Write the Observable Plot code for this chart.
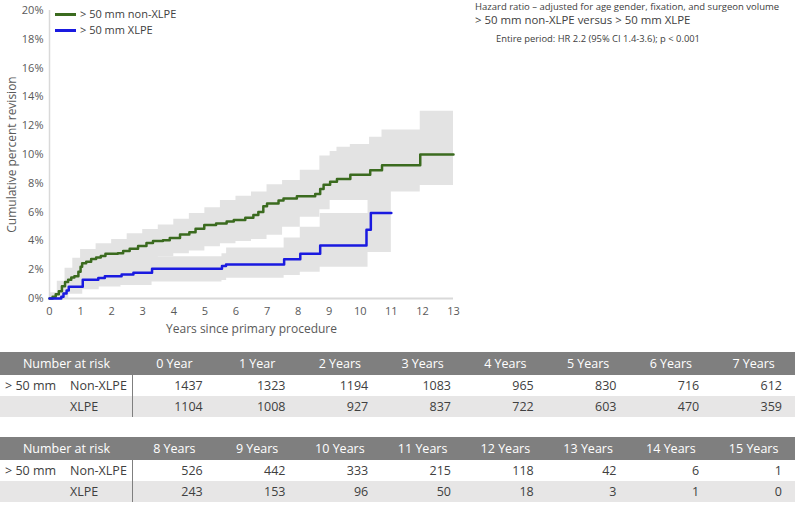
<!DOCTYPE html>
<html><head><meta charset="utf-8">
<script src="https://cdn.jsdelivr.net/npm/d3@7"></script>
<script src="https://cdn.jsdelivr.net/npm/@observablehq/plot@0.6"></script>
<style>
body{margin:0;background:#fff;font-family:"Open Sans",sans-serif;}
#wrap{position:relative;width:795px;height:505px;overflow:hidden;background:#fff;}
#wrap svg{position:absolute;left:0;top:0;}
.abs{position:absolute;white-space:nowrap;}
.hdr{position:absolute;left:0;width:795px;background:#7f7f7f;color:#fff;}
</style></head><body><div id="wrap"></div>
<script>
// ---- Kaplan-Meier style cumulative revision (%) ----
const nonXlpeT = [0,0.1,0.2,0.3,0.4,0.5,0.6,0.7,0.8,0.93,1.0,1.05,1.18,1.34,1.5,1.65,1.8,2.2,2.37,2.58,2.85,3.12,3.33,3.65,3.87,4.2,4.5,4.7,4.98,5.36,5.7,5.93,6.3,6.56,6.72,6.88,7.0,7.37,7.53,7.96,8.55,8.71,8.82,9.03,9.25,9.68,10.32,10.7,11.93,13];
const nonXlpeV = [0,0.12,0.3,0.5,0.85,1.15,1.3,1.45,1.55,1.85,2.2,2.45,2.55,2.75,2.85,2.95,3.1,3.15,3.3,3.45,3.65,3.85,4.0,4.05,4.2,4.45,4.6,4.85,5.1,5.2,5.35,5.45,5.6,5.8,6.0,6.4,6.6,6.8,6.95,7.1,7.25,7.6,7.9,8.1,8.3,8.6,8.9,9.25,10.0,10.0];
const xlpeT = [0,0.38,0.45,0.55,0.62,1.07,1.57,1.78,2.32,2.7,3.3,5.55,5.68,7.55,8.07,8.71,10.2,10.34,11.0];
const xlpeV = [0,0.12,0.35,0.55,0.82,1.3,1.43,1.55,1.66,1.78,2.06,2.25,2.36,2.73,3.1,3.68,4.77,5.93,5.93];
// 95% confidence bands
const nonXlpeBandT = [0,0.25,0.5,0.75,1.0,1.5,2.0,2.5,3.0,3.5,4.0,4.5,5.0,5.5,6.0,6.5,7.0,7.5,8.07,8.7,9.03,9.25,9.68,10.3,10.7,11.0,11.93,13];
const nonXlpeUpper = [0.4,1.2,2.1,2.8,3.4,3.8,4.1,4.5,4.8,5.1,5.5,5.9,6.3,6.8,7.1,7.4,7.9,8.2,8.9,9.9,10.2,10.5,10.7,11.2,11.7,11.7,13.0,13.0];
const nonXlpeLower = [0,0.1,0.5,0.9,1.4,1.8,2.1,2.4,2.7,2.9,3.1,3.3,3.6,3.8,3.95,4.1,4.4,4.95,5.65,6.16,6.8,6.8,6.8,7.4,7.4,7.4,7.85,7.85];
const xlpeBandT = [0,0.38,0.62,1.07,1.6,2.3,3.3,5.55,5.7,7.55,8.07,8.71,10.25,11.0];
const xlpeUpper = [0.1,0.6,1.8,2.4,2.6,2.7,2.9,3.1,3.5,4.2,4.95,5.9,8.1,8.1];
const xlpeLower = [0,0,0.3,0.6,0.8,0.9,1.15,1.25,1.4,1.6,1.83,2.17,3.2,3.2];

const seriesNames = ["> 50 mm non-XLPE", "> 50 mm XLPE"];
const seriesColors = ["#3b6b1f", "#1a1ae0"];
const yTicks = [0,2,4,6,8,10,12,14,16,18,20];
const xTicks = [0,1,2,3,4,5,6,7,8,9,10,11,12,13];

// ---- Number at risk tables ----
const riskYears1 = ["0 Year","1 Year","2 Years","3 Years","4 Years","5 Years","6 Years","7 Years"];
const riskNon1 = [1437,1323,1194,1083,965,830,716,612];
const riskX1 = [1104,1008,927,837,722,603,470,359];
const riskYears2 = ["8 Years","9 Years","10 Years","11 Years","12 Years","13 Years","14 Years","15 Years"];
const riskNon2 = [526,442,333,215,118,42,6,1];
const riskX2 = [243,153,96,50,18,3,1,0];

const hazardTitle = "Hazard ratio – adjusted for age gender, fixation, and surgeon volume";
const hazardCompare = "> 50 mm non-XLPE versus > 50 mm XLPE";
const hazardResult = "Entire period: HR 2.2 (95% CI 1.4-3.6); p < 0.001";

const lineNon = nonXlpeT.map((t,i)=>({t, v:nonXlpeV[i]}));
const lineX = xlpeT.map((t,i)=>({t, v:xlpeV[i]}));
const bandNon = nonXlpeBandT.map((t,i)=>({t, lo:nonXlpeLower[i], hi:nonXlpeUpper[i]}));
const bandX = xlpeBandT.map((t,i)=>({t, lo:xlpeLower[i], hi:xlpeUpper[i]}));

const FONT = '"Open Sans", sans-serif';
const band = "#e3e3e3";
const chart = Plot.plot({
  width: 795, height: 345,
  marginLeft: 49, marginRight: 342, marginTop: 10, marginBottom: 47,
  style: {fontFamily: FONT, fontSize: "11px", color: "#595959", background: "transparent"},
  x: {domain: [0,13]},
  y: {domain: [0,20]},
  marks: [
    Plot.areaY(bandNon, {x:"t", y1:"lo", y2:"hi", curve:"step-after", fill: band}),
    Plot.areaY(bandX, {x:"t", y1:"lo", y2:"hi", curve:"step-after", fill: band}),
    Plot.ruleX([0], {stroke:"#d9d9d9", strokeWidth:1.5}),
    Plot.ruleY([0], {stroke:"#d9d9d9", strokeWidth:2}),
    Plot.line(lineNon, {x:"t", y:"v", curve:"step-after", stroke: seriesColors[0], strokeWidth:2.5}),
    Plot.line(lineX, {x:"t", y:"v", curve:"step-after", stroke: seriesColors[1], strokeWidth:2.5}),
    Plot.axisX({ticks: xTicks, tickSize:0, tickPadding:9, label:"Years since primary procedure", labelAnchor:"center", labelArrow:"none", labelOffset:34, fontSize:11}),
    Plot.axisY({ticks: yTicks, tickSize:0, tickPadding:6, tickFormat: d => d + "%", label:"Cumulative percent revision", labelAnchor:"center", labelArrow:"none", labelOffset:42, fontSize:11})
  ]
});
const wrap = document.getElementById("wrap");
wrap.appendChild(chart);
chart.querySelectorAll('g[aria-label="x-axis label"] text, g[aria-label="y-axis label"] text').forEach(t=>{t.style.fontSize="12px";});

function add(html){ wrap.insertAdjacentHTML("beforeend", html); }
const esc = s => s.replace(/&/g,"&amp;").replace(/</g,"&lt;").replace(/>/g,"&gt;");

// Legend
seriesNames.forEach((n,i)=>{
  const y = 14 + i*16;
  add(`<div class="abs" style="left:55px;top:${y-1}px;width:21px;height:2.5px;background:${seriesColors[i]}"></div>`);
  add(`<div class="abs" style="left:80px;top:${y-8}px;font-size:11px;line-height:16px;color:#404040">${esc(n)}</div>`);
});

// Hazard text
add(`<div class="abs" style="left:475px;top:1px;font-size:9.5px;line-height:12px;color:#404040">${esc(hazardTitle)}</div>`);
add(`<div class="abs" style="left:475px;top:13px;font-size:11.4px;line-height:14px;color:#404040">${esc(hazardCompare)}</div>`);
add(`<div class="abs" style="left:496px;top:33px;font-size:9.4px;line-height:12px;color:#404040">${esc(hazardResult)}</div>`);

// Tables
const FS = "12.5px";
function table(top, years, non, xl){
  const colX = 133, colW = 82.75;
  add(`<div class="hdr" style="top:${top}px;height:23px"></div>`);
  add(`<div class="abs" style="left:0;width:133px;top:${top}px;height:23px;line-height:23px;text-align:center;color:#fff;font-size:${FS}">Number at risk</div>`);
  years.forEach((y,i)=>{
    add(`<div class="abs" style="left:${colX+i*colW}px;width:${colW}px;top:${top}px;line-height:23px;text-align:center;color:#fff;font-size:${FS}">${y}</div>`);
  });
  const r1 = top+23, r2 = top+44;
  add(`<div class="abs" style="left:0;width:795px;top:${r2}px;height:21px;background:#e7e6e6"></div>`);
  add(`<div class="abs" style="left:132px;width:1px;top:${r1}px;height:42px;background:#7f7f7f"></div>`);
  add(`<div class="abs" style="left:5px;top:${r1}px;line-height:21px;font-size:${FS};color:#404040">&gt; 50 mm</div>`);
  add(`<div class="abs" style="left:70px;top:${r1}px;line-height:21px;font-size:${FS};color:#404040">Non-XLPE</div>`);
  add(`<div class="abs" style="left:70px;top:${r2}px;line-height:21px;font-size:${FS};color:#404040">XLPE</div>`);
  non.forEach((v,i)=>{
    add(`<div class="abs" style="left:${colX+i*colW}px;width:${colW-13}px;top:${r1}px;line-height:21px;text-align:right;font-size:${FS};color:#404040">${v}</div>`);
  });
  xl.forEach((v,i)=>{
    add(`<div class="abs" style="left:${colX+i*colW}px;width:${colW-13}px;top:${r2}px;line-height:21px;text-align:right;font-size:${FS};color:#404040">${v}</div>`);
  });
}
table(352, riskYears1, riskNon1, riskX1);
table(437, riskYears2, riskNon2, riskX2);
</script></body></html>
